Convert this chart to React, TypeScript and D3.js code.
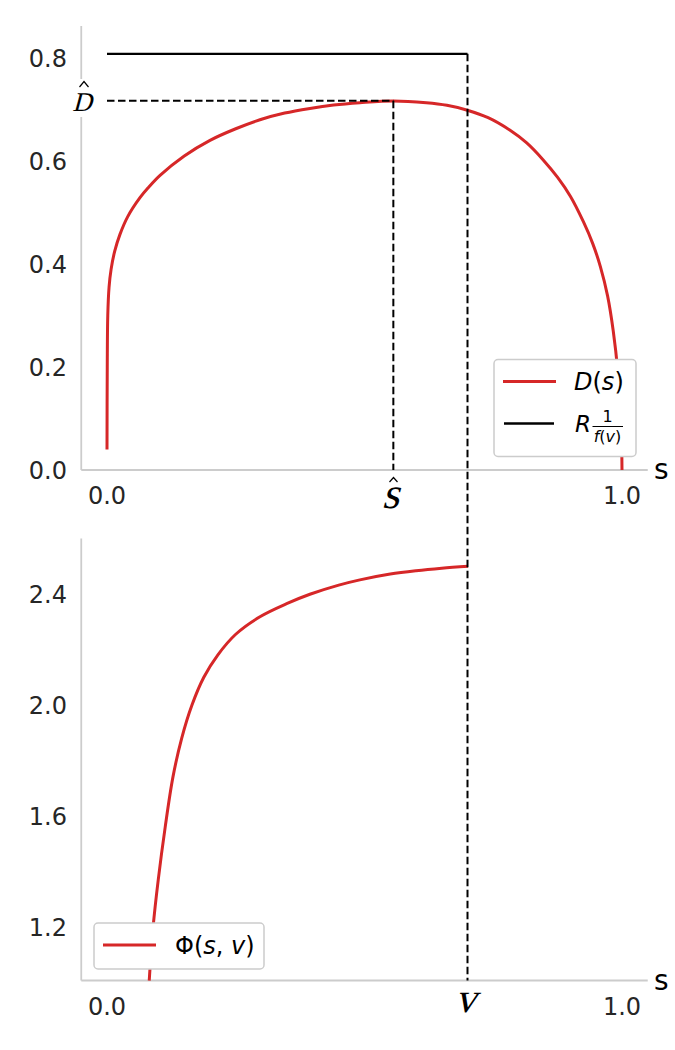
import React from "react";
import * as d3 from "d3";

// ---- data ----
const dS = [0, 0.0005, 0.0015, 0.004, 0.008, 0.015, 0.025, 0.04, 0.064, 0.08, 0.103, 0.15, 0.2, 0.25, 0.297, 0.345, 0.394, 0.44, 0.491, 0.556, 0.62, 0.66, 0.698, 0.74, 0.782, 0.815, 0.847, 0.875, 0.9, 0.925, 0.943, 0.958, 0.972, 0.983, 0.992, 0.998, 1.0];
const dValues = [0.04, 0.2, 0.3, 0.355, 0.39, 0.425, 0.457, 0.4915, 0.5287, 0.548, 0.572, 0.6096, 0.64, 0.6625, 0.68, 0.693, 0.702, 0.7085, 0.713, 0.7165, 0.713, 0.708, 0.699, 0.684, 0.66, 0.635, 0.602, 0.568, 0.531, 0.482, 0.44, 0.395, 0.338, 0.27, 0.19, 0.1, 0.0];
const phiS = [0.082, 0.0895, 0.0995, 0.113, 0.128, 0.145, 0.165, 0.188, 0.215, 0.25, 0.297, 0.35, 0.394, 0.45, 0.491, 0.55, 0.6, 0.65, 0.701];
const phiValues = [1.007, 1.2, 1.37, 1.56, 1.74, 1.88, 2.0, 2.1, 2.18, 2.255, 2.318, 2.366, 2.399, 2.432, 2.451, 2.472, 2.484, 2.493, 2.5];
const rLevel = 0.808;
const vValue = 0.7;
const sHat = 0.556;
const dHat = 0.717;
const topYTicks = [0.0, 0.2, 0.4, 0.6, 0.8];
const bottomYTicks = [1.2, 1.6, 2.0, 2.4];
const xTicks = [0.0, 1.0];

const RED = "#d62728";
const SPINE = "#cccccc";
const TICK = "#262626";
const SANS = "'DejaVu Sans', sans-serif";
const SERIF = "'Liberation Serif', serif";

function MathGlyph({ x, y, size, children, anchor = "middle" }: any) {
  return (
    <g transform={`translate(${x},${y}) skewX(-15)`}>
      <text x={0} y={0} textAnchor={anchor} fontFamily={SERIF} fontSize={size} fill="#000">
        {children}
      </text>
    </g>
  );
}

export default function App() {
  const x = d3.scaleLinear().domain([-0.05, 1.05]).range([81.25, 647.75]);
  const yTop = d3.scaleLinear().domain([0, 0.862]).range([470, 26]);
  const yBot = d3.scaleLinear().domain([1.0072, 2.6]).range([980.5, 538.5]);

  const dLine = d3
    .line<number>()
    .x((_, i) => x(dS[i]))
    .y((v) => yTop(v))
    .curve(d3.curveCatmullRom.alpha(0.5));
  const phiLine = d3
    .line<number>()
    .x((_, i) => x(phiS[i]))
    .y((v) => yBot(v))
    .curve(d3.curveCatmullRom.alpha(0.5));

  const [x0, x1] = x.range();
  const fmt = d3.format(".1f");

  return (
    <svg
      width={675}
      height={1050}
      style={{ position: "absolute", left: 0, top: 0, background: "#fff" }}
    >
      <rect width={675} height={1050} fill="#fff" />
      {/* ---------- TOP PANEL ---------- */}
      <g>
        <line x1={x0} x2={x1} y1={yTop(0)} y2={yTop(0)} stroke={SPINE} strokeWidth={1.8} />
        <line x1={x0} x2={x0} y1={yTop(0)} y2={yTop.range()[1]} stroke={SPINE} strokeWidth={1.8} />
        {topYTicks.map((t) => (
          <text key={t} x={67} y={yTop(t) + 8.7} textAnchor="end" fontFamily={SANS} fontSize={24} fill={TICK}>
            {fmt(t)}
          </text>
        ))}
        {xTicks.map((t) => (
          <text key={t} x={x(t)} y={yTop(0) + 34} textAnchor="middle" fontFamily={SANS} fontSize={24} fill={TICK}>
            {fmt(t)}
          </text>
        ))}
        <text x={654} y={479} fontFamily={SANS} fontSize={28} fill="#000">s</text>

        <path d={dLine(dValues) || ""} fill="none" stroke={RED} strokeWidth={3} />
        {/* R 1/f(v) */}
        <line x1={x(0)} x2={x(vValue)} y1={yTop(rLevel)} y2={yTop(rLevel)} stroke="#000" strokeWidth={2.3} />
        {/* D hat dashed guides */}
        <line x1={x(0)} x2={x(sHat)} y1={yTop(dHat)} y2={yTop(dHat)} stroke="#000" strokeWidth={2} strokeDasharray="7.5,3.5" />
        <line x1={x(sHat)} x2={x(sHat)} y1={yTop(dHat)} y2={yTop(0)} stroke="#000" strokeWidth={2} strokeDasharray="7.5,3.5" />

        {/* D hat tick label */}
        <rect x={68} y={79} width={27} height={38} fill="#fff" />
        <MathGlyph x={82} y={yTop(dHat) + 10.8} size={27}>D</MathGlyph>
        <path d={`M79.5,87 L84,81.5 L88.5,87`} fill="none" stroke="#000" strokeWidth={1.2} />
        {/* s hat tick label */}
        <MathGlyph x={x(sHat) - 3} y={508} size={44}>s</MathGlyph>
        <path d={`M389.5,482 L393.5,477.5 L397.5,482`} fill="none" stroke="#000" strokeWidth={1.2} />

        {/* legend */}
        <rect x={494} y={359.5} width={142} height={97} rx={4} fill="#fff" stroke={SPINE} strokeWidth={1.5} />
        <line x1={503} x2={556} y1={381.5} y2={381.5} stroke={RED} strokeWidth={3} />
        <text x={574} y={390} fontFamily={SANS} fontSize={24} fill="#000">
          <tspan fontStyle="italic">D</tspan>
          <tspan>(</tspan>
          <tspan fontStyle="italic">s</tspan>
          <tspan>)</tspan>
        </text>
        <line x1={504} x2={554} y1={423.5} y2={423.5} stroke="#000" strokeWidth={2.3} />
        <text x={575} y={432} fontFamily={SANS} fontStyle="italic" fontSize={23} fill="#000">R</text>
        <text x={607.5} y={422} textAnchor="middle" fontFamily={SANS} fontSize={16} fill="#000">1</text>
        <line x1={592.5} x2={623} y1={426.5} y2={426.5} stroke="#000" strokeWidth={1} />
        <text x={607.5} y={441.5} textAnchor="middle" fontFamily={SANS} fontSize={16} fill="#000">
          <tspan fontStyle="italic">f</tspan>
          <tspan>(</tspan>
          <tspan fontStyle="italic">v</tspan>
          <tspan>)</tspan>
        </text>
      </g>

      {/* ---------- BOTTOM PANEL ---------- */}
      <g>
        <line x1={x0} x2={x1} y1={yBot.range()[0]} y2={yBot.range()[0]} stroke={SPINE} strokeWidth={1.8} />
        <line x1={x0} x2={x0} y1={yBot.range()[0]} y2={yBot.range()[1]} stroke={SPINE} strokeWidth={1.8} />
        {bottomYTicks.map((t) => (
          <text key={t} x={67} y={yBot(t) + 8.7} textAnchor="end" fontFamily={SANS} fontSize={24} fill={TICK}>
            {fmt(t)}
          </text>
        ))}
        {xTicks.map((t) => (
          <text key={t} x={x(t)} y={yBot.range()[0] + 34.5} textAnchor="middle" fontFamily={SANS} fontSize={24} fill={TICK}>
            {fmt(t)}
          </text>
        ))}
        <text x={654} y={989.5} fontFamily={SANS} fontSize={28} fill="#000">s</text>

        <path d={phiLine(phiValues) || ""} fill="none" stroke={RED} strokeWidth={3} />
        <MathGlyph x={x(vValue) - 2} y={1012} size={42}>v</MathGlyph>

        {/* legend */}
        <rect x={94} y={923} width={170} height={46} rx={4} fill="#fff" stroke={SPINE} strokeWidth={1.5} />
        <line x1={103} x2={156} y1={945} y2={945} stroke={RED} strokeWidth={3} />
        <text x={175} y={953.5} fontFamily={SANS} fontSize={24} fill="#000">
          <tspan>Φ(</tspan>
          <tspan fontStyle="italic">s</tspan>
          <tspan>, </tspan>
          <tspan fontStyle="italic">v</tspan>
          <tspan>)</tspan>
        </text>
      </g>

      {/* v dashed line spanning both panels */}
      <line x1={x(vValue)} x2={x(vValue)} y1={yTop(rLevel)} y2={yBot.range()[0]} stroke="#000" strokeWidth={2} strokeDasharray="7.5,3.5" />
    </svg>
  );
}
